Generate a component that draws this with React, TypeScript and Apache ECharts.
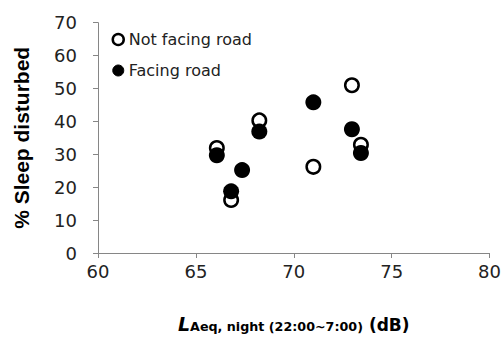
import React, { useEffect, useRef } from "react";
import * as echarts from "echarts";

const notFacingX = [66.07, 66.8, 68.24, 71.0, 72.97, 73.43];
const notFacingY = [31.9, 16.1, 40.3, 26.2, 51.0, 32.9];
const facingX = [66.07, 66.8, 67.36, 68.24, 71.0, 72.97, 73.43];
const facingY = [29.7, 18.75, 25.2, 36.9, 45.8, 37.6, 30.4];
const seriesNames = ["Not facing road", "Facing road"];

export default function App() {
  const ref = useRef<HTMLDivElement>(null);
  useEffect(() => {
    if (!ref.current) return;
    const chart = echarts.init(ref.current, null, { renderer: "svg" });
    const axisColor = "#868686";
    const labelFont = "DejaVu Sans";
    chart.setOption({
      animation: false,
      backgroundColor: "#ffffff",
      grid: { left: 98, right: 12.5, top: 22.7, bottom: 80, containLabel: false },
      legend: {
        orient: "vertical",
        left: 111.5,
        top: 31,
        padding: 0,
        itemWidth: 11,
        itemHeight: 11,
        itemGap: 14,
        textStyle: { fontFamily: labelFont, fontSize: 16, color: "#222", lineHeight: 17 },
        data: [
          { name: seriesNames[0], icon: "circle", itemStyle: { color: "#fff", borderColor: "#000", borderWidth: 2.5 } },
          { name: seriesNames[1], icon: "circle", itemStyle: { color: "#000", borderColor: "#000", borderWidth: 1 } },
        ],
      },
      xAxis: {
        type: "value",
        min: 60,
        max: 80,
        interval: 5,
        splitLine: { show: false },
        axisLine: { show: true, onZero: false, lineStyle: { color: axisColor, width: 1 } },
        axisTick: { show: true, length: 5, lineStyle: { color: axisColor } },
        axisLabel: { fontFamily: labelFont, fontSize: 18, color: "#222", margin: 9 },
        name: "{L|L}{s|Aeq, night (22:00~7:00)}{d| (dB)}",
        nameLocation: "middle",
        nameGap: 42,
        nameTextStyle: {
          rich: {
            L: { fontFamily: labelFont, fontWeight: "bold", fontStyle: "italic", fontSize: 19, lineHeight: 38, verticalAlign: "bottom", color: "#000" },
            s: { fontFamily: labelFont, fontWeight: "bold", fontSize: 12.7, lineHeight: 17, verticalAlign: "bottom", color: "#000" },
            d: { fontFamily: labelFont, fontWeight: "bold", fontSize: 17, lineHeight: 26, verticalAlign: "bottom", color: "#000" },
          },
        },
      },
      yAxis: {
        type: "value",
        min: 0,
        max: 70,
        interval: 10,
        splitLine: { show: false },
        axisLine: { show: true, onZero: false, lineStyle: { color: axisColor, width: 1 } },
        axisTick: { show: true, length: 5, lineStyle: { color: axisColor } },
        axisLabel: { fontFamily: labelFont, fontSize: 18, color: "#222", margin: 21 },
        name: "% Sleep disturbed",
        nameLocation: "middle",
        nameGap: 66,
        nameTextStyle: { fontFamily: "Liberation Sans", fontWeight: "bold", fontSize: 21, color: "#000", lineHeight: 21 },
      },
      series: [
        {
          name: seriesNames[0],
          type: "scatter",
          symbol: "circle",
          symbolSize: 13.5,
          itemStyle: { color: "#fff", borderColor: "#000", borderWidth: 2.5, opacity: 1 },
          data: notFacingX.map((x, i) => [x, notFacingY[i]]),
          z: 2,
        },
        {
          name: seriesNames[1],
          type: "scatter",
          symbol: "circle",
          symbolSize: 16,
          itemStyle: { color: "#000", opacity: 1 },
          data: facingX.map((x, i) => [x, facingY[i]]),
          z: 3,
        },
      ],
    });
    return () => chart.dispose();
  }, []);
  return <div ref={ref} style={{ width: 504, height: 338, position: "absolute", left: 0, top: 0 }} />;
}
